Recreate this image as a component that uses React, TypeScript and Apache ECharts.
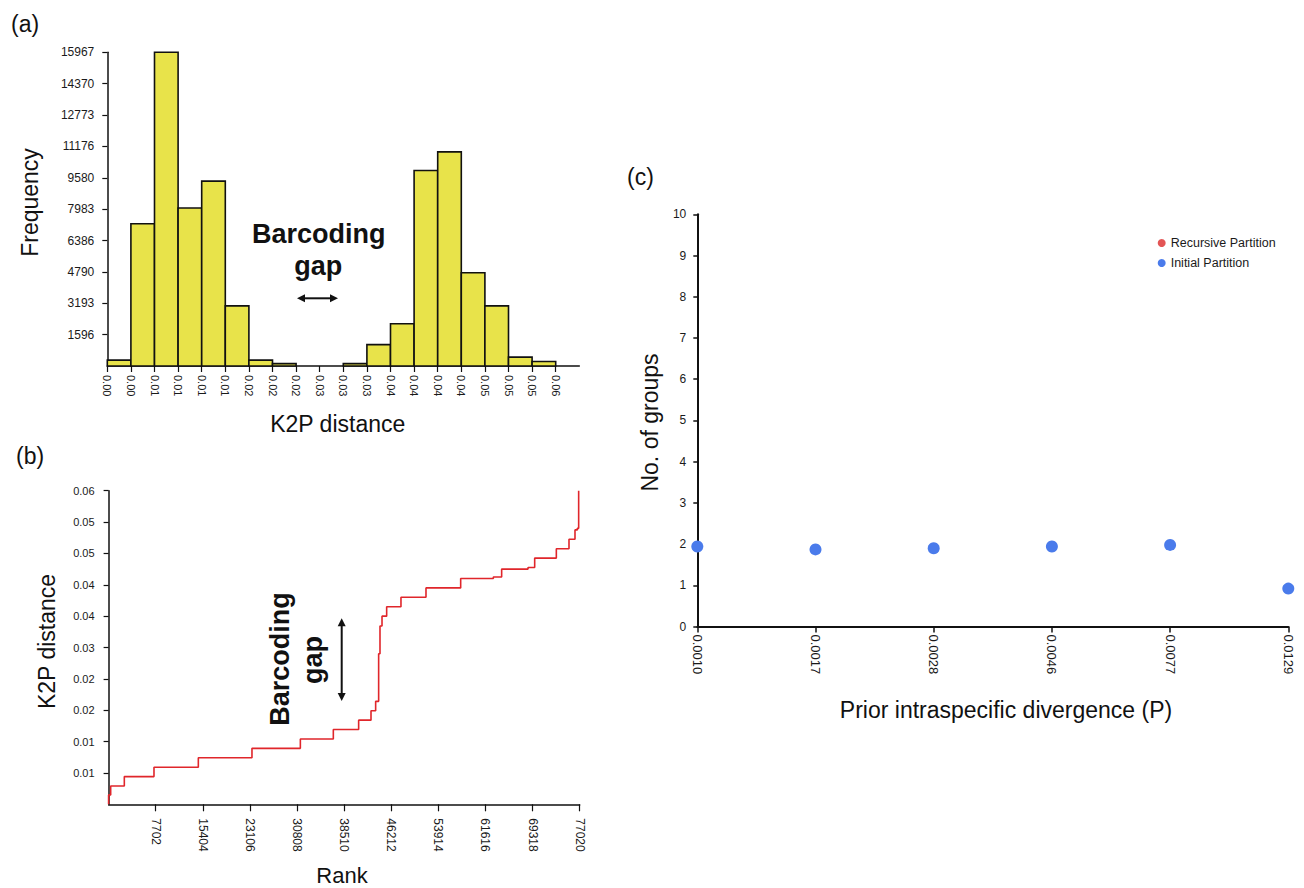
import React, { useEffect, useRef } from 'react';
import * as echarts from 'echarts';

const FONT = '"Liberation Sans", Arial, Helvetica, sans-serif';

// ---------- (a) histogram of K2P distances ----------
const binLabels = ['0.00', '0.00', '0.01', '0.01', '0.01', '0.01', '0.02', '0.02', '0.02', '0.03', '0.03', '0.03', '0.04', '0.04', '0.04', '0.04', '0.05', '0.05', '0.05', '0.06'];
const binFrequencies = [300, 7240, 15967, 8040, 9410, 3060, 300, 120, 0, 0, 120, 1090, 2150, 9950, 10900, 4750, 3060, 450, 230];
const freqMax = 15967;
const freqTickLabels = ['1596', '3193', '4790', '6386', '7983', '9580', '11176', '12773', '14370', '15967'];

// ---------- (b) ranked K2P distances ----------
const rankMax = 77020;
const rankTicks = [7702, 15404, 23106, 30808, 38510, 46212, 53914, 61616, 69318, 77020];
const k2pMax = 0.06;
const k2pTickLabels = ['0.01', '0.01', '0.02', '0.02', '0.03', '0.04', '0.04', '0.05', '0.05', '0.06'];
const stepRanks = [0, 0, 340, 2570, 7420, 14670, 23440, 31350, 36740, 40880, 42900, 43660, 44150, 44370, 44700, 45460, 47800, 51890, 57560, 62900, 64260, 68570, 69660, 73200, 75270, 76250, 76630, 76850];
const stepDistances = [0, 0.0018, 0.0035, 0.0053, 0.0071, 0.0089, 0.0107, 0.0125, 0.0143, 0.0161, 0.0179, 0.0197, 0.0288, 0.0341, 0.036, 0.0378, 0.0396, 0.0414, 0.0432, 0.0435, 0.045, 0.0453, 0.0471, 0.0489, 0.0507, 0.0525, 0.0528, 0.06];

// ---------- (c) number of groups vs prior ----------
const priorValues = ['0.0010', '0.0017', '0.0028', '0.0046', '0.0077', '0.0129'];
const initialPartitionGroups = [1.94, 1.87, 1.9, 1.94, 1.98, 0.92];
const recursivePartitionGroups: number[] = [];
const groupTicks = [0, 1, 2, 3, 4, 5, 6, 7, 8, 9, 10];

const BLACK = '#111';
const LABEL = '#1a1a1a';

function txt(text: string, x: number, y: number, size: number, opts: any = {}) {
  return {
    type: 'text',
    x,
    y,
    rotation: opts.rotation || 0,
    silent: true,
    style: {
      text,
      fontSize: size,
      fontFamily: FONT,
      fontWeight: opts.bold ? 'bold' : 'normal',
      fill: opts.fill || BLACK,
      align: opts.align || 'center',
      verticalAlign: 'middle',
    },
  };
}

export default function App() {
  const ref = useRef<HTMLDivElement>(null);

  useEffect(() => {
    if (!ref.current) return;
    const chart = echarts.init(ref.current, undefined, { renderer: 'svg' });

    const freqTickValues = freqTickLabels.map((_, i) => ((i + 1) * freqMax) / 10);
    const k2pTickValues = k2pTickLabels.map((_, i) => ((i + 1) * k2pMax) / 10);
    const binTickValues = binLabels.map((_, i) => i);

    const option: any = {
      animation: false,
      backgroundColor: '#fff',
      textStyle: { fontFamily: FONT },
      grid: [
        { left: 107.3, top: 52.3, width: 472, height: 313.7, outerBoundsMode: 'none' },
        { left: 108.6, top: 490.7, width: 471.1, height: 313.6, outerBoundsMode: 'none' },
        { left: 697.3, top: 214.3, width: 591, height: 412.2, outerBoundsMode: 'none' },
      ],
      xAxis: [
        {
          type: 'value',
          gridIndex: 0,
          min: 0,
          max: binLabels.length,
          splitLine: { show: false },
          axisLine: { show: true, lineStyle: { color: BLACK, width: 1.5 } },
          axisTick: { show: true, customValues: binTickValues, length: 6, lineStyle: { color: BLACK, width: 1.2 } },
          axisLabel: {
            customValues: binTickValues,
            rotate: -90,
            margin: 9,
            fontSize: 11,
            color: LABEL,
            fontFamily: FONT,
            formatter: (v: number) => binLabels[Math.round(v)] ?? '',
          },
        },
        {
          type: 'value',
          gridIndex: 1,
          min: 0,
          max: rankMax,
          splitLine: { show: false },
          axisLine: { show: true, lineStyle: { color: BLACK, width: 1.5 } },
          axisTick: { show: true, customValues: rankTicks, length: 7, lineStyle: { color: BLACK, width: 1.2 } },
          axisLabel: {
            customValues: rankTicks,
            rotate: -90,
            margin: 14,
            fontSize: 12,
            color: LABEL,
            fontFamily: FONT,
            formatter: (v: number) => String(Math.round(v)),
          },
        },
        {
          type: 'category',
          gridIndex: 2,
          data: priorValues,
          boundaryGap: false,
          splitLine: { show: false },
          axisLine: { show: true, lineStyle: { color: BLACK, width: 2 } },
          axisTick: { show: true, length: 6, lineStyle: { color: BLACK, width: 1.5 } },
          axisLabel: { rotate: -90, margin: 8, fontSize: 13, color: LABEL, fontFamily: FONT, interval: 0 },
        },
      ],
      yAxis: [
        {
          type: 'value',
          gridIndex: 0,
          min: 0,
          max: freqMax,
          splitLine: { show: false },
          axisLine: { show: true, lineStyle: { color: BLACK, width: 1.5 } },
          axisTick: { show: true, customValues: freqTickValues, length: 5, lineStyle: { color: BLACK, width: 1.2 } },
          axisLabel: {
            customValues: freqTickValues,
            margin: 13,
            fontSize: 12,
            color: LABEL,
            fontFamily: FONT,
            formatter: (v: number) => freqTickLabels[Math.round(v / (freqMax / 10)) - 1] ?? '',
          },
        },
        {
          type: 'value',
          gridIndex: 1,
          min: 0,
          max: k2pMax,
          splitLine: { show: false },
          axisLine: { show: true, lineStyle: { color: BLACK, width: 1.5 } },
          axisTick: { show: true, customValues: k2pTickValues, length: 5, lineStyle: { color: BLACK, width: 1.2 } },
          axisLabel: {
            customValues: k2pTickValues,
            margin: 14,
            fontSize: 11,
            color: LABEL,
            fontFamily: FONT,
            formatter: (v: number) => k2pTickLabels[Math.round(v / (k2pMax / 10)) - 1] ?? '',
          },
        },
        {
          type: 'value',
          gridIndex: 2,
          min: 0,
          max: 10,
          interval: 1,
          splitLine: { show: false },
          axisLine: { show: true, lineStyle: { color: BLACK, width: 2 } },
          axisTick: { show: true, customValues: groupTicks, length: 4, lineStyle: { color: BLACK, width: 1.5 } },
          axisLabel: { customValues: groupTicks, margin: 11, fontSize: 12, color: LABEL, fontFamily: FONT },
        },
      ],
      legend: {
        data: ['Recursive Partition', 'Initial Partition'],
        orient: 'vertical',
        left: 1157.7,
        top: 236,
        icon: 'circle',
        itemWidth: 8,
        itemHeight: 8,
        itemGap: 6,
        padding: 0,
        textStyle: { fontSize: 12.5, color: LABEL, fontFamily: FONT, lineHeight: 14 },
      },
      series: [
        {
          type: 'custom',
          name: 'Frequency',
          xAxisIndex: 0,
          yAxisIndex: 0,
          data: binFrequencies.map((v, i) => [i, v]),
          encode: { x: 0, y: 1 },
          renderItem: (params: any, api: any) => {
            const i = api.value(0);
            const v = api.value(1);
            if (!v) return { type: 'group', children: [] };
            const p0 = api.coord([i, 0]);
            const p1 = api.coord([i + 1, v]);
            return {
              type: 'rect',
              shape: { x: p0[0], y: p1[1], width: p1[0] - p0[0], height: p0[1] - p1[1] },
              style: { fill: '#E8E34A', stroke: BLACK, lineWidth: 1.6 },
            };
          },
        },
        {
          type: 'line',
          name: 'K2P distance',
          xAxisIndex: 1,
          yAxisIndex: 1,
          step: 'end',
          showSymbol: false,
          symbol: 'none',
          data: stepRanks.map((r, i) => [r, stepDistances[i]]),
          lineStyle: { color: '#E0262B', width: 1.6 },
          z: 5,
        },
        {
          type: 'scatter',
          name: 'Recursive Partition',
          xAxisIndex: 2,
          yAxisIndex: 2,
          data: recursivePartitionGroups,
          symbolSize: 12,
          itemStyle: { color: '#DC2A2A' },
        },
        {
          type: 'scatter',
          name: 'Initial Partition',
          xAxisIndex: 2,
          yAxisIndex: 2,
          data: initialPartitionGroups.map((v, i) => [i, v]),
          symbolSize: 12,
          itemStyle: { color: '#4A7BEB', opacity: 1 },
        },
      ],
      graphic: [
        txt('(a)', 11, 23.5, 23, { align: 'left' }),
        txt('(b)', 16, 456, 23, { align: 'left' }),
        txt('(c)', 627, 177, 23, { align: 'left' }),
        txt('Frequency', 30, 202.5, 23, { rotation: Math.PI / 2 }),
        txt('K2P distance', 337.7, 423.5, 23),
        txt('K2P distance', 47, 641.5, 23, { rotation: Math.PI / 2 }),
        txt('Rank', 342, 875.5, 22),
        txt('No. of groups', 650, 422.5, 23, { rotation: Math.PI / 2 }),
        txt('Prior intraspecific divergence (P)', 1006, 710, 23),
        txt('Barcoding', 318.7, 234, 27, { bold: true }),
        txt('gap', 318.3, 266, 27, { bold: true }),
        txt('Barcoding', 279.8, 659, 27, { bold: true, rotation: Math.PI / 2 }),
        txt('gap', 312.8, 660, 27, { bold: true, rotation: Math.PI / 2 }),
        // arrow (a)
        { type: 'line', silent: true, shape: { x1: 303, y1: 298.3, x2: 332, y2: 298.3 }, style: { stroke: BLACK, lineWidth: 2 } },
        { type: 'polygon', silent: true, shape: { points: [[297, 298.3], [305, 294.3], [305, 302.3]] }, style: { fill: BLACK } },
        { type: 'polygon', silent: true, shape: { points: [[338, 298.3], [330, 294.3], [330, 302.3]] }, style: { fill: BLACK } },
        // arrow (b)
        { type: 'line', silent: true, shape: { x1: 341.7, y1: 624, x2: 341.7, y2: 695 }, style: { stroke: BLACK, lineWidth: 2 } },
        { type: 'polygon', silent: true, shape: { points: [[341.7, 618.3], [337.7, 626.3], [345.7, 626.3]] }, style: { fill: BLACK } },
        { type: 'polygon', silent: true, shape: { points: [[341.7, 701], [337.7, 693], [345.7, 693]] }, style: { fill: BLACK } },
      ],
    };

    chart.setOption(option);
    return () => chart.dispose();
  }, []);

  return (
    <div
      ref={ref}
      style={{ position: 'absolute', left: 0, top: 0, width: 1304, height: 888, background: '#fff' }}
    />
  );
}
